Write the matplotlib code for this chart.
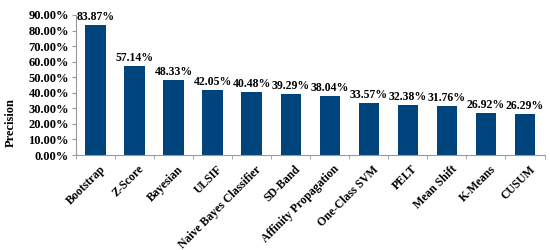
import numpy as np
import matplotlib
matplotlib.use('Agg')
import matplotlib.pyplot as plt
from matplotlib.ticker import FuncFormatter, FixedLocator

plt.rcParams['font.family'] = ['Liberation Serif', 'DejaVu Serif']
plt.rcParams['font.weight'] = 'bold'

methods = ['Bootstrap', 'Z-Score', 'Bayesian', 'ULSIF', 'Naive Bayes Classifier', 'SD-Band',
           'Affinity Propagation', 'One-Class SVM', 'PELT', 'Mean Shift', 'K-Means', 'CUSUM']
precision = [83.87, 57.14, 48.33, 42.05, 40.48, 39.29, 38.04, 33.57, 32.38, 31.76, 26.92, 26.29]

fig = plt.figure(figsize=(5.5, 2.5), dpi=100)
ax = fig.add_axes([0.138, 0.38, 0.852, 0.56])

x = np.arange(len(methods))
vals = np.array(precision) / 100.0
ax.bar(x, vals, width=0.52, color='#00447E')
for xi, v in zip(x, precision):
    ax.text(xi, v / 100.0 + 0.012, '%.2f%%' % v, ha='center', va='bottom',
            fontsize=8.5, fontweight='bold')

ax.set_xlim(-0.5, len(methods) - 0.5)
ax.set_ylim(0, 0.9)
ax.set_yticks(np.arange(0, 0.91, 0.1))
ax.yaxis.set_major_formatter(FuncFormatter(lambda v, p: '%.2f%%' % (v * 100)))
ax.set_xticks(x + 0.1)
ax.set_xticklabels(methods, rotation=45, ha='right', rotation_mode='anchor', fontsize=8.5)
ax.xaxis.set_minor_locator(FixedLocator(np.arange(-0.5, len(methods), 1.0)))
ax.tick_params(axis='x', which='major', length=0, pad=6)
ax.tick_params(axis='x', which='minor', length=3, color='#999999')
ax.tick_params(axis='y', labelsize=9, length=3, color='#999999', pad=2)
ax.set_ylabel('Precision', fontsize=9, fontweight='bold')
ax.yaxis.set_label_coords(-0.127, 0.23)

for s in ['top', 'right']:
    ax.spines[s].set_visible(False)
for s in ['left', 'bottom']:
    ax.spines[s].set_color('#999999')
    ax.spines[s].set_linewidth(0.8)

fig.savefig('out.png', dpi=100)
